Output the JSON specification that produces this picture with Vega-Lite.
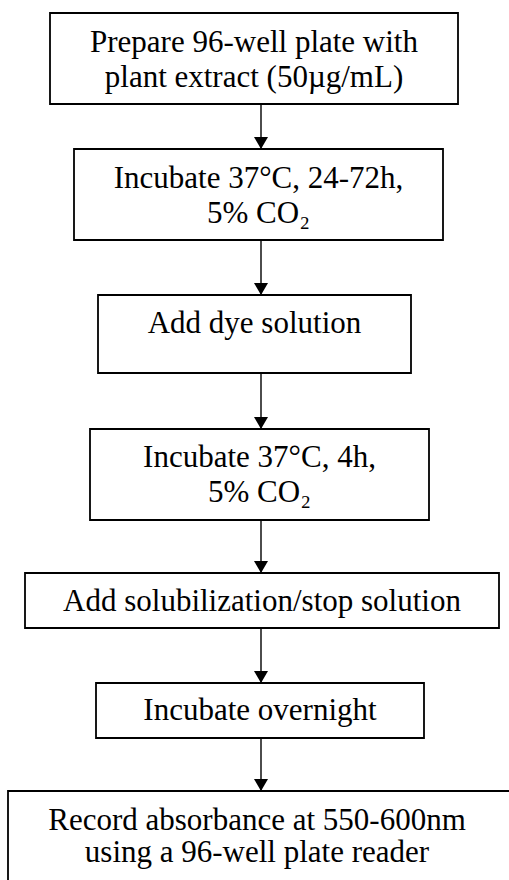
{
  "$schema": "https://vega.github.io/schema/vega-lite/v6.json",
  "width": 509,
  "height": 880,
  "padding": 0,
  "autosize": {"type": "none"},
  "background": "white",
  "config": {"view": {"stroke": null}},
  "datasets": {
    "boxes": [
      {"step": 1, "left": 50, "right": 458, "top": 13, "bottom": 104},
      {"step": 2, "left": 74, "right": 443, "top": 149, "bottom": 240},
      {"step": 3, "left": 98, "right": 411, "top": 295, "bottom": 373},
      {"step": 4, "left": 90, "right": 429, "top": 429, "bottom": 520},
      {"step": 5, "left": 25, "right": 499, "top": 573, "bottom": 628},
      {"step": 6, "left": 96, "right": 424, "top": 683, "bottom": 738},
      {"step": 7, "left": 8, "right": 514, "top": 791, "bottom": 895}
    ],
    "arrows": [
      {"from": 1, "x": 261, "start": 104, "end": 149},
      {"from": 2, "x": 261, "start": 240, "end": 295},
      {"from": 3, "x": 261, "start": 373, "end": 429},
      {"from": 4, "x": 261, "start": 520, "end": 573},
      {"from": 5, "x": 261, "start": 628, "end": 683},
      {"from": 6, "x": 261, "start": 738, "end": 791}
    ],
    "heads": [
      {"from": 1, "x": 261, "y": 143},
      {"from": 2, "x": 261, "y": 289},
      {"from": 3, "x": 261, "y": 423},
      {"from": 4, "x": 261, "y": 567},
      {"from": 5, "x": 261, "y": 677},
      {"from": 6, "x": 261, "y": 785}
    ],
    "lines": [
      {"step": 1, "x": 254, "y": 52, "label": "Prepare 96-well plate with"},
      {"step": 1, "x": 254, "y": 87, "label": "plant extract (50µg/mL)"},
      {"step": 2, "x": 258.5, "y": 188, "label": "Incubate 37°C, 24-72h,"},
      {"step": 2, "x": 258.5, "y": 223, "label": "5% CO₂"},
      {"step": 3, "x": 254.5, "y": 333, "label": "Add dye solution"},
      {"step": 4, "x": 259.5, "y": 467, "label": "Incubate 37°C, 4h,"},
      {"step": 4, "x": 259.5, "y": 502, "label": "5% CO₂"},
      {"step": 5, "x": 262, "y": 611, "label": "Add solubilization/stop solution"},
      {"step": 6, "x": 260, "y": 720, "label": "Incubate overnight"},
      {"step": 7, "x": 257, "y": 830, "label": "Record absorbance at 550-600nm"},
      {"step": 7, "x": 257, "y": 862, "label": "using a 96-well plate reader"}
    ]
  },
  "layer": [
    {
      "data": {"name": "boxes"},
      "mark": {"type": "rect", "fill": "white", "stroke": "black", "strokeWidth": 1.8},
      "encoding": {
        "x": {"field": "left", "type": "quantitative", "scale": {"domain": [0, 509], "nice": false, "zero": false}, "axis": null},
        "x2": {"field": "right"},
        "y": {"field": "top", "type": "quantitative", "scale": {"domain": [0, 880], "reverse": true, "nice": false, "zero": false}, "axis": null},
        "y2": {"field": "bottom"}
      }
    },
    {
      "data": {"name": "arrows"},
      "mark": {"type": "rule", "stroke": "black", "strokeWidth": 1.4},
      "encoding": {
        "x": {"field": "x", "type": "quantitative"},
        "y": {"field": "start", "type": "quantitative"},
        "y2": {"field": "end"}
      }
    },
    {
      "data": {"name": "heads"},
      "mark": {"type": "point", "shape": "triangle-down", "filled": true, "fill": "black", "stroke": null, "size": 196, "opacity": 1},
      "encoding": {
        "x": {"field": "x", "type": "quantitative"},
        "y": {"field": "y", "type": "quantitative"}
      }
    },
    {
      "data": {"name": "lines"},
      "mark": {"type": "text", "font": "Times New Roman, Liberation Serif, DejaVu Serif, serif", "fontSize": 31, "color": "black", "align": "center", "baseline": "alphabetic"},
      "encoding": {
        "x": {"field": "x", "type": "quantitative"},
        "y": {"field": "y", "type": "quantitative"},
        "text": {"field": "label"}
      }
    }
  ]
}
